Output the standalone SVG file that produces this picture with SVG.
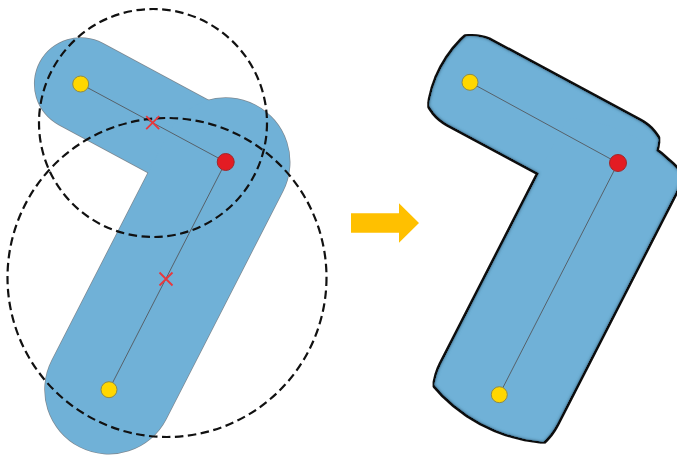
<svg xmlns="http://www.w3.org/2000/svg" width="677" height="455" viewBox="0 0 677 455">
  <style>
    .halo { fill: none; stroke: #7d8a94; stroke-linecap: round; }
    .body { fill: none; stroke: #70B1D7; stroke-linecap: round; }
    .skel { fill: none; stroke: #56616a; stroke-width: 1; }
    .yel { fill: #FFD700; stroke: #8c8a4a; stroke-width: 1; }
    .red { fill: #E31C23; stroke: #a0282c; stroke-width: 1; }
    .dash { fill: none; stroke: #111; stroke-width: 2.2; stroke-dasharray: 8.5 4.5; }
    .xm { stroke: #E8383D; stroke-width: 1.8; fill: none; }
  </style>
  <defs>
    <clipPath id="c1"><circle cx="153" cy="123" r="114"/></clipPath>
    <clipPath id="c2"><circle cx="167" cy="277.5" r="159.5"/></clipPath>
    <filter id="outline" filterUnits="userSpaceOnUse" x="0" y="0" width="320" height="470">
      <feMorphology in="SourceAlpha" operator="dilate" radius="1.7" result="dil"/>
      <feFlood flood-color="#0d0d0d"/>
      <feComposite in2="dil" operator="in" result="edge"/>
      <feGaussianBlur in="SourceAlpha" stdDeviation="1.8" result="blur"/>
      <feComposite in="SourceAlpha" in2="blur" operator="out" result="rim"/>
      <feFlood flood-color="#24455c" flood-opacity="1"/>
      <feComposite in2="rim" operator="in" result="rimc"/>
      <feMerge>
        <feMergeNode in="edge"/>
        <feMergeNode in="SourceGraphic"/>
        <feMergeNode in="rimc"/>
      </feMerge>
    </filter>
  </defs>

  <g id="left-shape">
    <path class="halo" stroke-width="93.5" d="M80.7,84 L225.7,162"/>
    <path class="halo" stroke-width="129.5" d="M225.7,162 L109,389.7"/>
    <path class="body" stroke-width="92" d="M80.7,84 L225.7,162"/>
    <path class="body" stroke-width="128" d="M225.7,162 L109,389.7"/>
  </g>

  <g id="right-shape" transform="translate(388,-2.6) scale(1.018)">
    <g filter="url(#outline)">
      <path class="body" stroke-width="92" d="M80.7,84 L225.7,162" clip-path="url(#c1)"/>
      <path class="body" stroke-width="128" d="M225.7,162 L109,389.7" clip-path="url(#c2)"/>
    </g>
  </g>

  <g id="connectors">
    <path class="skel" d="M80.7,84 L225.7,162 L109,389.7"/>
    <path class="skel" d="M470,82.3 L618,163 L499.3,394.7"/>
  </g>

  <g id="circle-1"><circle class="dash" cx="153" cy="123" r="114"/></g>
  <g id="circle-2"><circle class="dash" cx="167" cy="277.5" r="159.5"/></g>

  <g id="mid-1"><path class="xm" d="M146.2,116.2 L159.2,129.2 M159.2,116.2 L146.2,129.2"/></g>
  <g id="mid-2"><path class="xm" d="M159.5,272.5 L172.5,285.5 M172.5,272.5 L159.5,285.5"/></g>

  <g id="left-points">
    <circle class="yel" cx="80.7" cy="84" r="8"/>
    <circle class="red" cx="225.7" cy="162" r="8.5"/>
    <circle class="yel" cx="109" cy="389.7" r="8"/>
  </g>

  <g id="right-points">
    <circle class="yel" cx="470" cy="82.3" r="8"/>
    <circle class="red" cx="618" cy="163" r="8.5"/>
    <circle class="yel" cx="499.3" cy="394.7" r="8"/>
  </g>

  <g id="arrow">
    <path fill="#FFC000" d="M351,213.3 L399,213.3 L399,203.3 L419,223 L399,242.7 L399,232.7 L351,232.7 Z"/>
  </g>
</svg>
